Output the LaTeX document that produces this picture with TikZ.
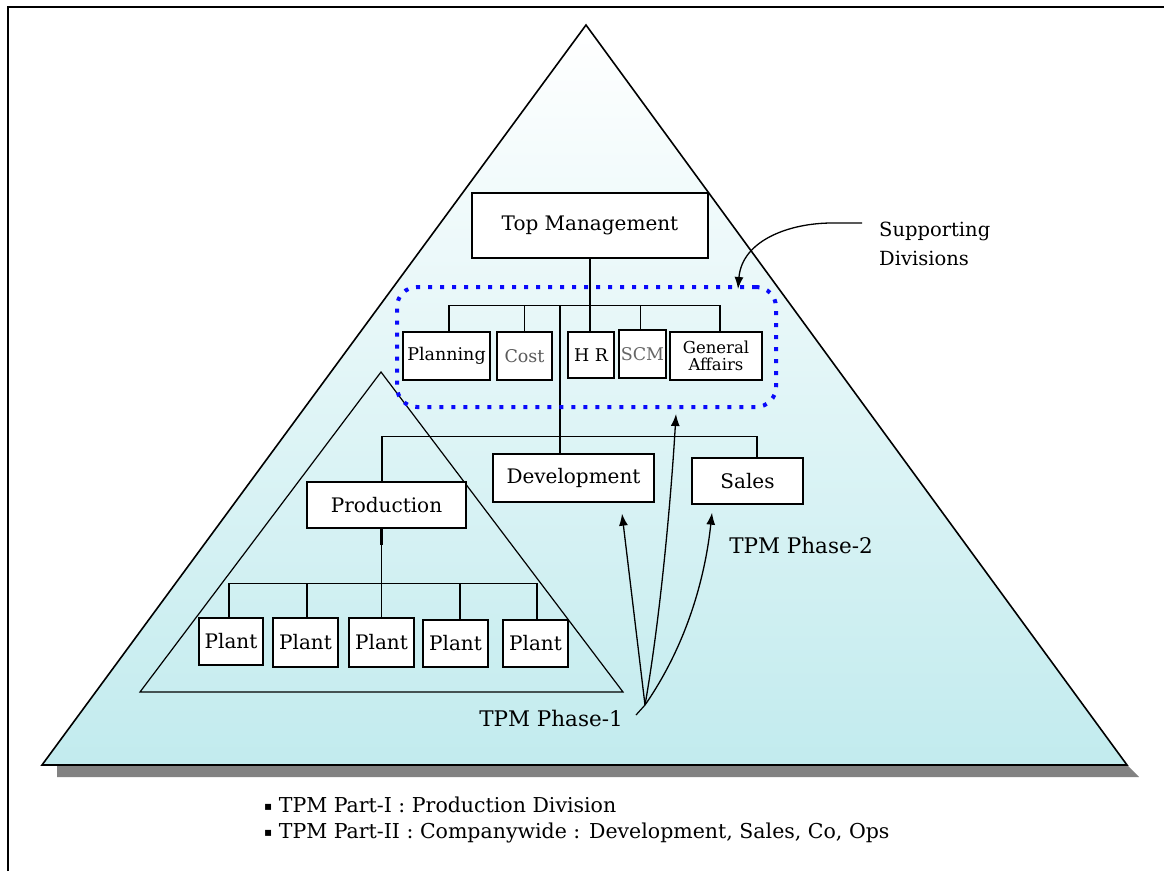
\documentclass[tikz,border=0pt]{standalone}
\usepackage{fontspec}
\setmainfont{DejaVu Serif}
\newfontfamily\symfont{DejaVu Sans}
\usetikzlibrary{arrows.meta}
\definecolor{tribot}{RGB}{194,235,238}
\definecolor{trimid}{RGB}{236,249,250}
\definecolor{shadowgray}{RGB}{130,130,130}
\definecolor{dotblue}{RGB}{10,10,250}
\begin{document}
\begin{tikzpicture}[x=1pt,y=-1pt,
  box/.style={draw,fill=white,line width=1.3pt,inner sep=0pt,font=\fontsize{20}{22}\selectfont},
  sbox/.style={box,font=\fontsize{17.5}{18}\selectfont},
  conn/.style={line width=1.3pt},
  arr/.style={line width=1.3pt,-{Latex[length=12pt,width=9pt]}},
  lbl/.style={inner sep=0pt,font=\fontsize{21.5}{22}\selectfont},
  btxt/.style={inner sep=0pt,anchor=west,font=\fontsize{20.5}{22}\selectfont}]
\useasboundingbox (0,0) rectangle (1164,871);
\fill[white] (0,0) rectangle (1164,871);
\draw[line width=2.5pt] (8,871) -- (8,7) -- (1164,7);
% shadow and pyramid
\fill[shadowgray] (57,766) -- (1128,766) -- (1139,777) -- (57,777) -- cycle;
\shade[top color=white,middle color=trimid,bottom color=tribot] (586,25) -- (1127,765) -- (42,765) -- cycle;
\draw[line width=1.6pt] (586,25) -- (1127,765) -- (42,765) -- cycle;
\draw[line width=1.2pt] (381,372) -- (623,692) -- (140,692) -- cycle;

% nodes
\node[box,minimum width=236,minimum height=65] (TM) at (590,225.5) {Top Management};
\node[sbox,minimum width=87,minimum height=48] (PL) at (446.5,356) {Planning};
\node[sbox,minimum width=55,minimum height=48,text=black!65] (CO) at (524.5,356) {Cost};
\node[sbox,minimum width=46,minimum height=46] (HR) at (591,355) {H R};
\node[sbox,minimum width=47,minimum height=48,text=black!60] (SC) at (642.5,354) {SCM};
\node[sbox,minimum width=92,minimum height=48,align=center,font=\fontsize{16.5}{17}\selectfont] (GA) at (716,356) {General\\Affairs};
\node[box,minimum width=159,minimum height=46] (PR) at (386.5,505) {Production};
\node[box,minimum width=161,minimum height=48] (DV) at (573.5,478) {Development};
\node[box,minimum width=111,minimum height=46] (SA) at (747.5,481) {Sales};
\node[box,minimum width=64,minimum height=47] (P1) at (231,641.5) {Plant};
\node[box,minimum width=65,minimum height=49] (P2) at (305.5,642.5) {Plant};
\node[box,minimum width=65,minimum height=49] (P3) at (381.5,642.5) {Plant};
\node[box,minimum width=65,minimum height=47] (P4) at (455.5,643.5) {Plant};
\node[box,minimum width=65,minimum height=47] (P5) at (535.5,643.5) {Plant};

% connectors
\coordinate (busA) at (TM.south |- 0,306);
\draw[conn] (TM.south) -- (TM.south |- HR.north);
\draw[conn] ([xshift=2.5pt]PL.north) -- ++(0,-26) -| ([xshift=4pt]GA.north);
\draw[conn] (CO.north) -- (CO.north |- busA);
\draw[conn] ([xshift=-2pt]SC.north) -- ([xshift=-2pt]SC.north |- busA);
\draw[conn] ([xshift=-13.5pt]DV.north) -- ([xshift=-13.5pt]DV.north |- busA);
\draw[conn] ([xshift=-4.5pt]PR.north) -- ++(0,-45) -| ([xshift=9.5pt]SA.north);
\draw[conn] (PR.south -| P3.north) -- (P3.north);
\draw[line width=3pt] (PR.south -| P3.north) -- ++(0,16);
\draw[conn] ([xshift=-2pt]P1.north) -- ++(0,-34) -| ([xshift=1.5pt]P5.north);
\draw[conn] ([xshift=1.5pt]P2.north) -- ([xshift=1.5pt]P2.north |- 0,584);
\draw[conn] ([xshift=4.5pt]P4.north) -- ([xshift=4.5pt]P4.north |- 0,584);

% supporting divisions box
\node[draw=dotblue,line width=4pt,dash pattern=on 4pt off 8pt,rounded corners=20pt,
      minimum width=379,minimum height=120,inner sep=0pt] (SUP) at (586.5,347) {};

% labels
\node[lbl] (PH1) at (551,718) {TPM Phase-1};
\node[lbl] (PH2) at (801,545) {TPM Phase-2};
\node[lbl,anchor=west,align=left,font=\fontsize{19.5}{29}\selectfont] (SDT) at (879,244) {Supporting\\Divisions};

% arrows
\coordinate (ph) at (645,705);
\coordinate (phtick) at (636,715);
\draw[line width=1.2pt] (phtick) -- (ph);
\draw[arr] (ph) -- ([xshift=48.5pt,yshift=-11pt]DV.south);
\draw[arr] (ph) .. controls (660,620) and (671,500) .. ([xshift=89.5pt,yshift=-5pt]SUP.south);
\draw[arr] (ph) .. controls (690,640) and (706,570) .. ([xshift=-35.5pt,yshift=-8pt]SA.south);
\draw[arr] ([xshift=-17pt,yshift=21pt]SDT.west) -- ++(-30,0) .. controls (790,223) and (742,240) .. ([xshift=151.5pt,yshift=-4pt]SUP.north);

% bottom notes
\node[btxt] (N1) at (264,805) {\raisebox{2pt}{\symfont\fontsize{12}{12}\selectfont ▪}\ TPM Part-I : Production Division};
\node[btxt] (N2) at (264,833) {\raisebox{2pt}{\symfont\fontsize{12}{12}\selectfont ▪}\ TPM Part-II : Companywide : Development, Sales, Co, Ops};
\end{tikzpicture}
\end{document}
